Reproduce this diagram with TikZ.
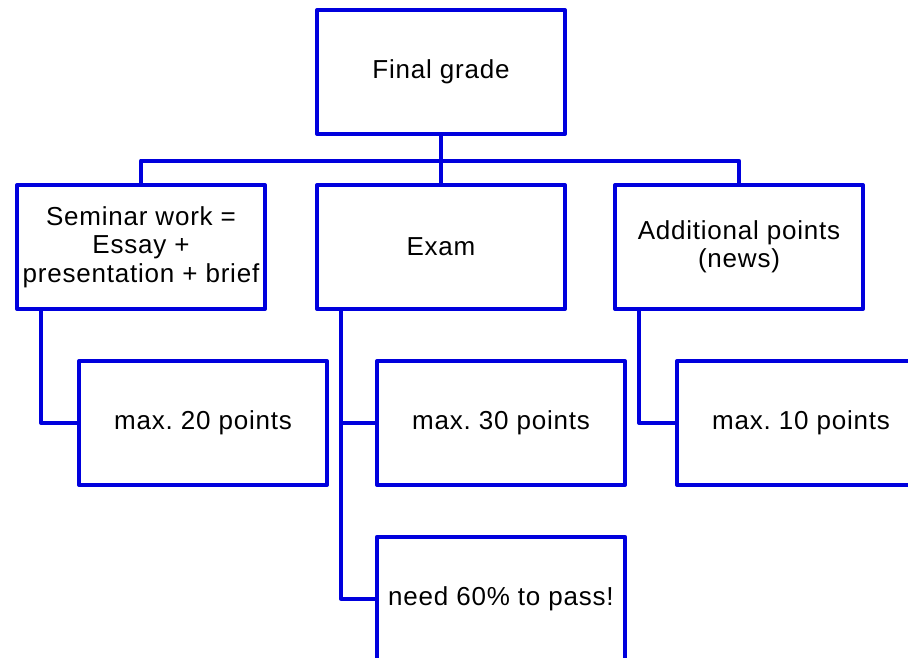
\documentclass[tikz,border=0pt]{standalone}
\usepackage{fontspec}
\setmainfont{Liberation Sans}[LetterSpace=3]
\definecolor{boxblue}{RGB}{0,0,221}
\frenchspacing
\begin{document}
\begin{tikzpicture}[x=1pt,y=-1pt,
  box/.style={draw=boxblue, line width=4pt, line join=round, minimum width=248pt, minimum height=124pt, inner sep=0pt, outer sep=0pt, anchor=north west, align=center, font=\fontsize{26}{28.5}\selectfont\frenchspacing},
  conn/.style={draw=boxblue, line width=4pt, line join=round}]
\useasboundingbox (0,0) rectangle (908,658);
\clip (0,0) rectangle (908,658);
\node[box] (final) at (317,10) {Final grade};
\node[box] (sem) at (17,185) {Seminar work =\\Essay +\\presentation + brief};
\node[box] (exam) at (317,185) {Exam};
\node[box] (add) at (615,185) {Additional points\\(news)};
\node[box] (m20) at (79,361) {max. 20 points};
\node[box] (m30) at (377,361) {max. 30 points};
\node[box] (m10) at (677,361) {max. 10 points};
\node[box] (need) at (377,536.7) {need 60\% to pass!};
\coordinate (bus) at (441,160.7);
\coordinate (s1) at ([xshift=24pt]sem.south west);
\coordinate (e1) at ([xshift=24pt]exam.south west);
\coordinate (a1) at ([xshift=24pt]add.south west);
\draw[conn] (final.south) -- (exam.north);
\draw[conn] (sem.north) |- (bus) -| (add.north);
\draw[conn] (s1) |- (m20.west);
\draw[conn] (e1) |- (need.west);
\draw[conn] (e1 |- m30.west) -- (m30.west);
\draw[conn] (a1) |- (m10.west);
\end{tikzpicture}
\end{document}
